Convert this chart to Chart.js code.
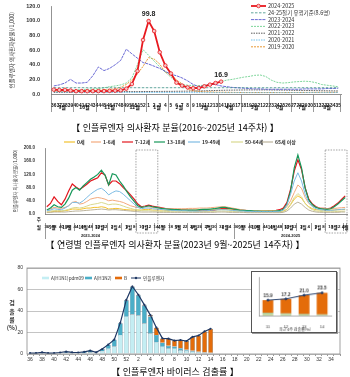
<!DOCTYPE html>
<html lang="ko"><head><meta charset="utf-8">
<script src="https://cdn.jsdelivr.net/npm/chart.js@4.4.1/dist/chart.umd.min.js"></script>
<style>
html,body{margin:0;padding:0;background:#fff;}
body{width:350px;height:377px;position:relative;overflow:hidden;font-family:'Noto Sans CJK KR','Noto Sans',sans-serif;-webkit-font-smoothing:antialiased;}
canvas{position:absolute;display:block;}
.t{position:absolute;left:0;width:350px;text-align:center;font-size:9px;line-height:12px;color:#000;white-space:nowrap;will-change:transform;opacity:0.999;}
#c4{border:1px solid #555;box-shadow:1px 1px 0 #999;background:#fff;}
</style></head><body>
<canvas id="c1" width="350" height="116" style="left:0;top:0"></canvas>
<div class="t" style="top:122px">【 인플루엔자 의사환자 분율(2016~2025년 14주차) 】</div>
<canvas id="c2" width="350" height="106" style="left:0;top:136px"></canvas>
<div class="t" style="top:239px">【 연령별 인플루엔자 의사환자 분율(2023년 9월~2025년 14주차) 】</div>
<canvas id="c3" width="350" height="108" style="left:0;top:258px"></canvas>
<canvas id="c4" width="86" height="62" style="left:251px;top:271px"></canvas>
<div class="t" style="top:366px">【 인플루엔자 바이러스 검출률 】</div>
<script>
// ---------- Chart 1 data ----------
const weeks1 = ['36','37','38','39','40','41','42','43','44','45','46','47','48','49','50','51','52','1','2','3','4','5','6','7','8','9','10','11','12','13','14','15','16','17','18','19','20','21','22','23','24','25','26','27','28','29','30','31','32','33','34','35'];
const months1 = ['9월','10월','11월','12월','1월','2월','3월','4월','5월','6월','7월','8월'];
const monthSpan1 = [4,4,5,4,4,4,5,4,5,4,4,5];
const yTitle1 = '인플루엔자 의사환자분율(/1,000)';
const s2425 = [6.0,5.5,5.6,4.8,3.9,3.9,3.9,3.9,4.0,4.0,4.3,4.6,5.0,7.3,13.6,31.3,73.9,
  99.8,86.1,57.1,39.0,28.0,15.5,11.5,9.0,8.0,8.2,10.5,12.8,15.0,16.9,
  null,null,null,null,null,null,null,null,null,null,null,null,null,null,null,null,null,null,null,null,null];
const thr = [8.6,8.6,8.6,8.6,8.6,8.6,8.6,8.6,8.6,8.6,8.6,8.6,8.6,8.6,8.6,8.6,8.6,8.6,8.6,8.6,8.6,8.6,8.6,8.6,8.6,8.6,
  8.6,8.6,8.6,8.6,8.6,8.6,8.6,8.6,8.6,8.6,8.6,8.6,8.6,8.6,8.6,8.6,8.6,8.6,8.6,8.6,8.6,8.6,8.6,8.6,8.6,8.6];
const s2324 = [11,12.5,15,20,15,15,16,25,37,32,35,40,46,61.3,55,49,43,
  41,38,35,31,27,25,22,18,13,10,11,13.5,13,11,10,9,8.5,8,7.5,7,7,6.5,6.5,6.5,6.5,6.5,6.5,6.5,7,7,7,7,7.5,7.5,8];
const s2223 = [5,5,5,5,5.5,6,6.5,7,7.5,8.5,10,11,12.5,15,22,40,60.7,
  53,45,37,30,23,16,13,12,11.5,11.5,12,13,14.5,17,19,20,21.5,23,24,25.5,26,24,19,16,15,15.5,16.5,17,17.5,17,15.5,13,12,11,10];
const s2122 = [2.5,2.5,2.6,2.6,2.7,2.8,2.9,3.0,3.0,3.1,3.1,3.2,3.2,3.3,3.3,3.3,3.4,
  3.4,3.5,3.5,3.6,3.6,3.7,3.8,3.9,4.0,4.2,4.4,4.6,4.8,5.0,5.2,5.3,5.4,5.5,5.6,5.6,5.6,5.6,5.5,5.4,5.3,5.2,5.0,4.9,4.8,4.7,4.6,4.5,4.4,4.3,4.2];
const s2021 = [2.6,2.6,2.5,2.5,2.5,2.4,2.4,2.3,2.3,2.3,2.2,2.2,2.2,2.2,2.1,2.1,2.1,
  2.1,2.1,2.0,2.0,2.0,2.0,2.0,2.0,1.9,1.9,1.9,1.9,1.9,1.9,1.9,1.9,1.9,1.9,1.9,1.9,1.9,1.9,1.9,1.9,1.9,1.9,2.0,2.0,2.0,2.0,2.0,2.0,2.0,2.0,2.1];
const s1920 = [3.9,4.0,4.2,4.5,4.5,4.6,4.8,5.0,5.2,5.6,6.5,7.0,9.3,13.0,19.1,27.5,37.8,
  49.8,47.8,40.9,29.5,28.0,19.0,14.0,6.3,4.5,3.5,3.0,2.8,2.5,2.4,2.3,2.2,2.1,2.0,2.0,2.0,2.0,2.0,2.0,2.0,2.0,2.0,2.1,2.1,2.2,2.2,2.2,2.3,2.3,2.3,2.4];
const labeledWeeks1 = ['1','14'];

// ---------- Chart 2 data ----------
const weeks2 = ['36','37','38','39','40','41','42','43','44','45','46','47','48','49','50','51','52',
 '1','2','3','4','5','6','7','8','9','10','11','12','13','14','15','16','17','18','19','20','21','22','23','24','25','26','27','28','29','30','31','32','33','34','35','36','37','38','39','40','41','42','43','44','45','46','47','48','49','50','51','52',
 '1','2','3','4','5','6','7','8','9','10','11','12','13','14'];
const months2 = ['9월','10월','11월','12월','1월','2월','3월','4월','5월','6월','7월','8월','9월','10월','11월','12월','1월','2월','3월','4월'];
const monthSpan2 = [4,4,5,4, 4,4,5,4,5,4,4,5,4,4,5,4, 4,4,5,1];
const seasons2 = ['2023-2024','2024-2025'];
const seasonSpan2 = [52,31];
const ages = ['0세','1-6세','7-12세','13-18세','19-49세','50-64세','65세 이상'];
const a0 = [5,6,8,8,8,10,12,15,15,14,16,18,18,20,20,22,20,
 15,16,17,16,14,13,12,12,12,12,14,14,12,12,
 12,12,11,11,11,11,11,11,11,11,12,12,12,13,13,14,14,14,14,13,12,
 11,10,10,9,9,9,9,9,9,9,9,9,7,9,14,28,45,
 55,48,32,22,16,13,12,12,12,12,12,13,13,14];
const a1_6 = [12,15,20,18,17,20,25,35,38,30,32,38,45,48,50,48,45,
 40,42,40,38,35,30,25,22,20,20,22,22,20,18,
 18,17,16,16,16,16,16,16,17,17,17,18,18,18,19,20,21,22,22,20,18,
 16,14,12,11,10,10,10,10,10,10,10,10,10,13,22,40,65,
 88,78,50,32,24,20,18,17,16,16,17,18,19,20];
const a7_12 = [22,32,52,38,28,45,70,91,82,74,82,90,100,105,110,125,118,
 88,100,100,92,80,70,58,45,30,22,24,27,24,22,
 20,18,16,15,14,13,12,12,11,11,10,10,10,10,11,12,14,16,17,16,15,
 13,12,11,10,10,9,9,9,9,10,10,11,13,18,35,75,130,
 164,135,80,45,30,22,18,17,16,18,25,33,44,55];
const a13_18 = [12,18,28,22,20,30,48,72,80,72,85,95,105,112,120,133,118,
 88,122,118,100,85,68,52,38,25,20,22,25,22,20,
 18,16,15,14,13,13,12,12,12,12,12,13,14,14,15,16,18,20,20,18,16,
 14,12,11,10,10,9,9,8,8,8,8,9,10,14,30,70,140,
 179,140,78,42,28,20,16,15,14,16,22,30,40,50];
const a19_49 = [10,12,16,14,13,18,25,35,35,33,40,50,60,68,75,78,70,
 58,65,70,68,60,50,40,30,20,16,18,18,16,15,
 14,13,12,11,11,10,10,10,9,9,9,9,10,10,11,12,13,13,13,12,11,
 10,9,9,8,8,8,8,8,8,8,8,8,8,12,28,60,100,
 125,100,60,35,22,16,13,12,11,11,12,13,14,15];
const a50_64 = [8,9,10,11,10,11,14,18,20,18,20,24,28,30,32,35,32,
 28,30,30,28,24,20,17,14,12,10,10,10,9,9,
 8,8,8,7,7,7,7,7,7,7,7,7,7,8,8,8,9,9,9,8,8,
 7,7,6,6,6,6,6,6,6,6,6,6,5,7,14,30,50,
 62,52,32,20,13,9,8,7,7,7,7,8,8,9];
const a65 = [5,5,6,6,6,6,7,8,9,9,10,11,12,13,14,15,14,
 12,13,13,12,11,10,9,8,7,6,6,6,6,6,
 5,5,5,5,5,5,5,5,5,5,5,5,5,5,5,5,6,6,6,5,5,
 5,5,5,4,4,4,4,4,4,4,4,4,4,5,9,18,30,
 36,30,20,12,8,6,5,5,5,5,5,5,6,6];
const boxWeeks2 = [[25,30],[77,82]];

// ---------- Chart 3 data ----------
const weeks3 = weeks1;
const h1n1 = [0.4,0.5,1.0,0.5,0.4,0.8,1.2,0.9,0.7,1.0,1.6,0.8,2.6,4.8,7.0,17.7,34.7,
  36.9,36.0,28.5,19.2,10.8,6.8,5.3,5.0,3.7,3.0,2.2,1.5,1.0,0.7];
const h3n2 = [0.4,0.4,0.6,0.4,0.4,0.6,1.0,0.7,0.7,1.0,1.6,0.7,2.0,3.9,6.3,11.0,15.3,
  25.5,18.6,16.6,15.8,6.9,3.7,2.3,2.0,1.6,1.0,0.8,0.7,0.5,0.5];
const fluB = [0,0,0,0,0,0,0,0,0,0,0,0,0,0,0.1,0.2,0.3,
  0.4,0.5,0.6,1.2,6.8,4.0,6.7,5.5,7.7,8.0,12.9,15.0,19.5,22.3];
const fluTotal = [0.8,0.9,1.6,0.9,0.8,1.4,2.2,1.6,1.4,2.0,3.2,1.5,4.6,8.7,13.4,28.9,50.3,
  62.8,55.1,45.7,36.2,24.5,14.5,14.3,12.5,13.0,12.0,15.9,17.2,21.0,23.5];
const seriesNames3 = ['A(H1N1)pdm09','A(H3N2)','B','인플루엔자'];
const insetWeeks = ['11','12','13','14'];
const insetTitle = '최근 4주 검출률(%)';

// ---------- setup ----------
const KF = "'Noto Sans CJK KR','Noto Sans',sans-serif";
const NF = "'Liberation Sans Narrow','Liberation Sans',Arial,sans-serif";
Chart.defaults.font.family = KF;
Chart.defaults.color = '#222';
Chart.defaults.animation = false;
Chart.defaults.responsive = false;
Chart.defaults.plugins.legend.display = false;
Chart.defaults.plugins.tooltip.enabled = false;
Chart.defaults.elements.point.radius = 0;
Chart.defaults.elements.line.tension = 0;

function drawMonthRow(ctx, x, ca, names, spans, sepTop, sepBot, labY, font){
  const step = x.getPixelForValue(1) - x.getPixelForValue(0);
  ctx.save();
  ctx.strokeStyle = '#555'; ctx.lineWidth = 0.6;
  ctx.fillStyle = '#111'; ctx.font = font; ctx.textAlign = 'center'; ctx.textBaseline = 'middle';
  let idx = 0;
  names.forEach((n, k) => {
    const xl = x.getPixelForValue(idx) - step/2;
    const xr = x.getPixelForValue(idx + spans[k] - 1) + step/2;
    ctx.beginPath(); ctx.moveTo(Math.round(xl)+0.5, sepTop); ctx.lineTo(Math.round(xl)+0.5, sepBot); ctx.stroke();
    ctx.fillText(n, (xl + xr)/2, labY);
    idx += spans[k];
    if (k === names.length - 1) { ctx.beginPath(); ctx.moveTo(Math.round(xr)-0.5, sepTop); ctx.lineTo(Math.round(xr)-0.5, sepBot); ctx.stroke(); }
  });
  ctx.restore();
}
function rotText(ctx, txt, cx, cy, font){
  ctx.save(); ctx.translate(cx, cy); ctx.rotate(-Math.PI/2);
  ctx.font = font; ctx.fillStyle = '#333'; ctx.textAlign = 'center'; ctx.textBaseline = 'middle';
  ctx.fillText(txt, 0, 0); ctx.restore();
}

// ---------- Chart 1 ----------
const plugin1 = { id:'p1', afterDraw(chart){
  const {ctx, chartArea:ca, scales:{x}} = chart;
  rotText(ctx, yTitle1, 12, (ca.top+ca.bottom)/2, `5.5px ${KF}`);
  drawMonthRow(ctx, x, ca, months1, monthSpan1, ca.bottom+1, ca.bottom+18, ca.bottom+13.5, `bold 5px ${KF}`);
  ctx.save();
  ctx.font = `5.5px ${KF}`; ctx.textBaseline = 'middle'; ctx.fillStyle = '#333';
  chart.data.datasets.forEach((ds, k) => {
    const yy = 6 + k*6.8;
    ctx.strokeStyle = ds.borderColor; ctx.lineWidth = ds.borderWidth; ctx.setLineDash(ds.borderDash || []);
    ctx.beginPath(); ctx.moveTo(251, yy); ctx.lineTo(266, yy); ctx.stroke();
    ctx.setLineDash([]);
    if (k === 0) { ctx.fillStyle = ds.pointBackgroundColor; ctx.lineWidth = 0.8; ctx.beginPath(); ctx.arc(258.5, yy, 1.8, 0, Math.PI*2); ctx.fill(); ctx.stroke(); }
    ctx.fillStyle = '#333'; ctx.fillText(ds.label, 268, yy);
  });
  const meta = chart.getDatasetMeta(0);
  ctx.font = `bold 7px ${NF}`; ctx.textAlign = 'center'; ctx.textBaseline = 'bottom'; ctx.fillStyle = '#222';
  labeledWeeks1.forEach(w => {
    const i = weeks1.indexOf(w); const p = meta.data[i];
    ctx.fillText(s2425[i].toFixed(1), p.x, p.y - 3.5);
  });
  ctx.restore();
}};
new Chart(document.getElementById('c1'), {
  type:'line',
  data:{ labels: weeks1, datasets:[
    {label:'2024-2025', data:s2425, borderColor:'#e8191f', borderWidth:1.8, pointRadius:1.8, pointBorderWidth:0.8, pointBackgroundColor:'#f7c6c6', pointBorderColor:'#e8191f'},
    {label:'24-25절기 유행기준(8.6명)', data:thr, borderColor:'#3a8f84', borderWidth:0.8, borderDash:[2.5,1.5]},
    {label:'2023-2024', data:s2324, borderColor:'#5a5ad0', borderWidth:0.9, borderDash:[3,0.8]},
    {label:'2022-2023', data:s2223, borderColor:'#6fd08f', borderWidth:0.9, borderDash:[2,1]},
    {label:'2021-2022', data:s2122, borderColor:'#333333', borderWidth:0.8, borderDash:[1.5,1]},
    {label:'2020-2021', data:s2021, borderColor:'#4fb3e8', borderWidth:0.8, borderDash:[1.5,1]},
    {label:'2019-2020', data:s1920, borderColor:'#e89a38', borderWidth:1, borderDash:[2,1]}
  ]},
  options:{
    layout:{padding:{top:5,right:9,left:0,bottom:0}},
    scales:{
      x:{offset:true, grid:{display:false}, border:{color:'#777',width:0.8},
         ticks:{autoSkip:false,maxRotation:0,minRotation:0,padding:1,font:{family:NF,size:4.8,weight:'bold'},color:'#111'},
         afterFit(s){s.height=22;}},
      y:{min:0,max:120, grid:{display:false}, border:{color:'#777',width:0.8},
         ticks:{stepSize:20,callback:v=>v.toFixed(1),font:{family:NF,size:5.5,weight:'bold'},padding:3,color:'#333'},
         afterFit(s){s.width=51;}}
    }
  },
  plugins:[plugin1]
});

// ---------- Chart 2 ----------
const ageColors = ['#f2c12e','#f3a97c','#e3161e','#16985a','#7cbbe3','#d9d98f','#bdb49c'];
const ageWidths = [1,1,1.2,1.2,1,1,1];
const legendPos2 = [[64,75,77],[91,101,103],[122,133,135],[154,165,167],[188,200,202],[231,243,245],[262,273,275]];
const plugin2 = { id:'p2', afterDraw(chart){
  const {ctx, chartArea:ca, scales:{x}} = chart;
  const step = x.getPixelForValue(1) - x.getPixelForValue(0);
  rotText(ctx, yTitle1, 15, (ca.top+ca.bottom)/2, `4.5px ${KF}`);
  drawMonthRow(ctx, x, ca, months2, monthSpan2, ca.bottom+9, ca.bottom+17, ca.bottom+13.5, `bold 4.4px ${KF}`);
  ctx.save();
  ctx.font = `bold 4.5px ${KF}`; ctx.textAlign = 'right'; ctx.textBaseline = 'middle'; ctx.fillStyle = '#222';
  ctx.fillText('주', ca.left - 4, ca.bottom + 5.5);
  ctx.fillText('월', ca.left - 4, ca.bottom + 13.5);
  ctx.strokeStyle = '#555'; ctx.lineWidth = 0.6; ctx.textAlign = 'center';
  ctx.font = `bold 4px ${NF}`;
  let idx = 0;
  seasons2.forEach((sname, k) => {
    const xl = x.getPixelForValue(idx) - step/2;
    ctx.beginPath(); ctx.moveTo(Math.round(xl)+0.5, ca.bottom+17); ctx.lineTo(Math.round(xl)+0.5, ca.bottom+25); ctx.stroke();
    const xc = x.getPixelForValue(idx + (k===0 ? 12 : 15));
    ctx.fillText(sname, xc, ca.bottom + 21.5);
    idx += seasonSpan2[k];
  });
  ctx.setLineDash([1.5,1.2]); ctx.strokeStyle = '#666'; ctx.lineWidth = 0.6;
  boxWeeks2.forEach(([a,b]) => {
    const xl = x.getPixelForValue(a) - step/2;
    const xr = Math.min(x.getPixelForValue(b) + step/2, chart.width - 1);
    ctx.strokeRect(xl, ca.top + 2, xr - xl, ca.bottom + 19 - ca.top - 2);
  });
  ctx.setLineDash([]);
  ctx.font = `bold 5px ${KF}`; ctx.textAlign = 'left';
  chart.data.datasets.forEach((ds, k) => {
    const [l0,l1,tx] = legendPos2[k];
    ctx.strokeStyle = ds.borderColor; ctx.lineWidth = 1.2;
    ctx.beginPath(); ctx.moveTo(l0, 6); ctx.lineTo(l1, 6); ctx.stroke();
    ctx.fillStyle = '#333'; ctx.fillText(ds.label, tx, 6);
  });
  ctx.restore();
}};
const ageData = [a0,a1_6,a7_12,a13_18,a19_49,a50_64,a65];
const drawOrder = [4,5,6,1,0,3,2];
new Chart(document.getElementById('c2'), {
  type:'line',
  data:{ labels: weeks2, datasets: ages.map((a,k)=>({label:a, data:ageData[k], borderColor:ageColors[k], borderWidth:ageWidths[k], order:drawOrder[k]})) },
  options:{
    layout:{padding:{top:12,right:3,left:0,bottom:0}},
    scales:{
      x:{offset:true, grid:{display:false}, border:{color:'#777',width:0.8},
         ticks:{autoSkip:false,maxRotation:0,minRotation:0,padding:2,font:{family:NF,size:4.4,weight:'bold'},color:'#111',
           callback:(v,i)=>(Number(weeks2[i])%2===0 ? weeks2[i] : '')},
         afterFit(s){s.height=28;}},
      y:{min:0,max:200, grid:{display:false}, border:{color:'#777',width:0.8},
         ticks:{stepSize:20,callback:v=>v.toFixed(1),font:{family:NF,size:4.5,weight:'bold'},padding:2,color:'#333'},
         afterFit(s){s.width=45;}}
    }
  },
  plugins:[plugin2]
});

// ---------- Chart 3 ----------
const col3 = ['#c4eef3','#4aaec8','#e46c0a','#1f3864'];
const plugin3 = { id:'p3', afterDraw(chart){
  const {ctx, chartArea:ca} = chart;
  ctx.save();
  ctx.strokeStyle = '#8a8a8a'; ctx.lineWidth = 0.8;
  ctx.strokeRect(ca.left, ca.top, ca.width, ca.height);
  ctx.font = `bold 6px ${KF}`; ctx.fillStyle = '#333'; ctx.textAlign = 'center'; ctx.textBaseline = 'middle';
  ['검','출','률','(%)'].forEach((c,k)=>ctx.fillText(c, 12, 45 + k*8.3));
  ctx.font = `4.6px ${KF}`; ctx.textAlign = 'left';
  const ly = 20;
  const lp = [[42,49,51],[85,92,94],[115,122,124],[131,141,143]];
  seriesNames3.forEach((n,k)=>{
    const [a,b,t] = lp[k];
    if (k < 3) { ctx.fillStyle = col3[k]; ctx.fillRect(a, ly-1.3, b-a, 2.6); }
    else { ctx.strokeStyle = col3[3]; ctx.lineWidth = 1; ctx.beginPath(); ctx.moveTo(a, ly); ctx.lineTo(b, ly); ctx.stroke();
      ctx.fillStyle = col3[3]; ctx.beginPath(); ctx.arc((a+b)/2, ly, 1.2, 0, Math.PI*2); ctx.fill(); }
    ctx.fillStyle = '#333'; ctx.fillText(n, t, ly);
  });
  ctx.restore();
}};
function barDs(label, data, color){
  return {type:'bar', label, data, backgroundColor:color, borderColor:'#2b4e63', borderWidth:0.4, stack:'v', order:1,
          barPercentage:0.8, categoryPercentage:1.0};
}
new Chart(document.getElementById('c3'), {
  data:{ labels: weeks3, datasets:[
    barDs(seriesNames3[0], h1n1, col3[0]),
    barDs(seriesNames3[1], h3n2, col3[1]),
    barDs(seriesNames3[2], fluB, col3[2]),
    {type:'line', label:seriesNames3[3], data:fluTotal, borderColor:col3[3], borderWidth:1.2, pointRadius:1.1,
     pointBackgroundColor:col3[3], pointBorderWidth:0, stack:'t', order:0}
  ]},
  options:{
    layout:{padding:{top:10,right:10,left:0,bottom:0}},
    scales:{
      x:{stacked:true, grid:{display:true, drawOnChartArea:false, tickLength:2, color:'#999'}, border:{display:false},
         ticks:{autoSkip:false,maxRotation:0,minRotation:0,padding:1,font:{family:NF,size:5},color:'#333',
           callback:(v,i)=>(Number(weeks3[i])%2===0 ? weeks3[i] : '')},
         afterFit(s){s.height=12;}},
      y:{stacked:true, min:0, max:80, grid:{color:'#b5b5b5', lineWidth:0.8, drawTicks:false}, border:{display:false},
         ticks:{stepSize:20, font:{family:NF,size:5}, padding:4, color:'#333'},
         afterFit(s){s.width=27;}}
    }
  },
  plugins:[plugin3]
});

// ---------- Inset ----------
const insIdx = insetWeeks.map(w => weeks3.indexOf(w));
const pick = arr => insIdx.map(i => arr[i]);
const plugin4 = { id:'p4', afterDraw(chart){
  const {ctx} = chart;
  const meta = chart.getDatasetMeta(3);
  ctx.save();
  ctx.font = `bold 4.8px ${NF}`; ctx.fillStyle = '#333'; ctx.textAlign = 'center'; ctx.textBaseline = 'bottom';
  pick(fluTotal).forEach((v,k)=>{ const p = meta.data[k]; ctx.fillText(v.toFixed(1), p.x, p.y - 2); });
  ctx.restore();
}};
new Chart(document.getElementById('c4'), {
  data:{ labels: insetWeeks, datasets:[
    {type:'bar', data:pick(h1n1), backgroundColor:'#c3d9a0', stack:'v', order:1, barPercentage:0.6, categoryPercentage:1},
    {type:'bar', data:pick(h3n2), backgroundColor:'#8fb07a', stack:'v', order:1, barPercentage:0.6, categoryPercentage:1},
    {type:'bar', data:pick(fluB), backgroundColor:col3[2], stack:'v', order:1, barPercentage:0.6, categoryPercentage:1},
    {type:'line', data:pick(fluTotal), borderColor:col3[3], borderWidth:1, pointRadius:1, pointBackgroundColor:col3[3], stack:'t', order:0}
  ]},
  options:{
    layout:{padding:{top:3,right:2,left:0,bottom:0}},
    scales:{
      x:{stacked:true, grid:{display:false}, border:{color:'#777',width:0.6},
         ticks:{font:{family:NF,size:4.2},padding:1,color:'#333'},
         title:{display:true,text:insetTitle,font:{size:4},padding:{top:1,bottom:0},color:'#333'},
         afterFit(s){s.height=17;}},
      y:{stacked:true, min:0, max:40, grid:{display:false}, border:{color:'#777',width:0.6},
         ticks:{stepSize:10,font:{family:NF,size:3.6},padding:1,color:'#333'},
         afterFit(s){s.width=7;}}
    }
  },
  plugins:[plugin4]
});
</script>
</body></html>
